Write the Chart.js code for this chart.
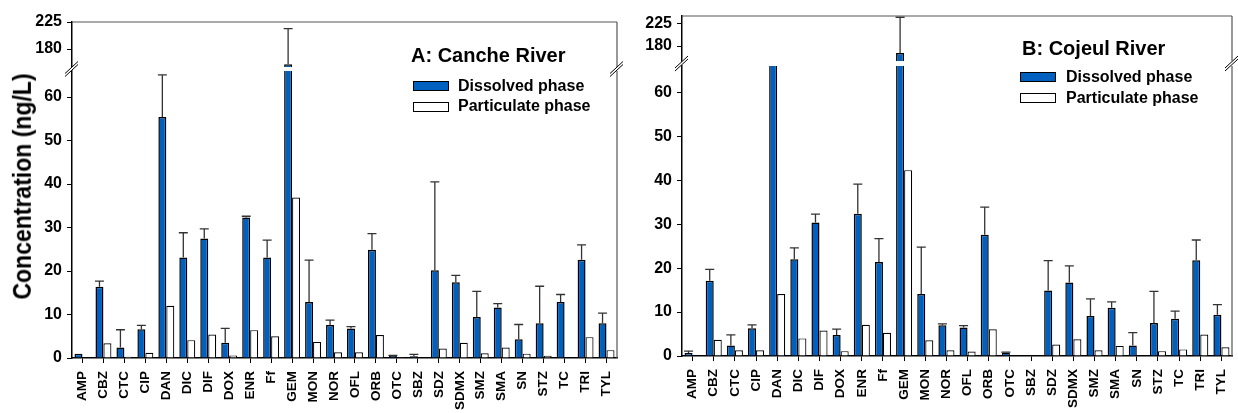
<!DOCTYPE html>
<html><head><meta charset="utf-8">
<script src="https://cdn.jsdelivr.net/npm/chart.js@4.4.1/dist/chart.umd.min.js"></script>
<style>
html,body{margin:0;padding:0;background:#fff;}
body{width:1238px;height:413px;overflow:hidden;position:relative;font-family:"Liberation Sans",Arial,sans-serif;}
canvas{position:absolute;}
.t{position:absolute;font-weight:bold;white-space:nowrap;color:#000;line-height:1;}
.sw{position:absolute;box-sizing:border-box;border:1.5px solid #000;width:36px;height:10px;}
</style></head><body>

<canvas id="aUp"></canvas>
<canvas id="aLo"></canvas>
<canvas id="bUp"></canvas>
<canvas id="bLo"></canvas>

<div class="t" style="left:-128px;top:175px;width:300px;text-align:center;font-size:23px;transform:rotate(-90deg) scaleY(1.12);">Concentration (ng/L)</div>

<div class="t" style="left:411px;top:45px;font-size:20px;">A: Canche River</div>
<div class="sw" style="left:413px;top:81px;background:#0060C0;"></div>
<div class="t" style="left:458px;top:78px;font-size:16px;">Dissolved phase</div>
<div class="sw" style="left:413px;top:102px;background:#fff;"></div>
<div class="t" style="left:458px;top:98px;font-size:16px;">Particulate phase</div>

<div class="t" style="left:1022px;top:38px;font-size:20px;">B: Cojeul River</div>
<div class="sw" style="left:1020px;top:72px;background:#0060C0;"></div>
<div class="t" style="left:1066px;top:69px;font-size:16px;">Dissolved phase</div>
<div class="sw" style="left:1020px;top:93px;background:#fff;"></div>
<div class="t" style="left:1066px;top:90px;font-size:16px;">Particulate phase</div>

<script>
const categories = ['AMP','CBZ','CTC','CIP','DAN','DIC','DIF','DOX','ENR','Ff','GEM','MON','NOR','OFL','ORB','OTC','SBZ','SDZ','SDMX','SMZ','SMA','SN','STZ','TC','TRI','TYL'];

// A: Canche River
const cancheDissolved   = [1.0,16.4,2.4,6.6,55.4,23.1,27.5,3.5,32.3,23.1,154.5,12.9,7.6,6.8,24.9,0.5,0.4,20.2,17.4,9.4,11.6,4.3,8.0,12.9,22.6,8.0];
const cancheDissolvedSD = [0,1.3,4.1,0.9,9.7,5.7,2.2,3.3,0.3,4.0,59.5,9.6,1.1,0.4,3.7,0.1,0.45,20.3,1.6,5.9,0.9,3.4,8.5,1.7,3.4,2.3];
const cancheParticulate = [0.1,3.4,0.3,1.2,12.0,4.1,5.4,0.6,6.4,5.0,36.9,3.7,1.3,1.3,5.3,0.2,0,2.2,3.5,1.1,2.4,1.0,0.5,0,4.8,1.8];

// B: Cojeul River
const cojeulDissolved   = [0.7,17.1,2.4,6.3,95,22.0,30.4,4.8,32.4,21.4,166,14.1,7.0,6.5,27.6,0.8,0,14.9,16.7,9.1,11.0,2.4,7.5,8.5,21.8,9.4];
const cojeulDissolvedSD = [0.4,2.6,2.4,0.8,0,2.6,1.9,1.3,6.7,5.3,71.5,10.7,0.3,0.4,6.3,0.1,0,6.8,3.8,3.9,1.3,2.9,7.2,1.7,4.6,2.3];
const cojeulParticulate = [0,3.7,1.3,1.3,14.1,4.0,5.8,1.1,7.1,5.3,42.3,3.6,1.3,1.0,6.1,0,0,2.6,3.8,1.3,2.3,0,1.1,1.5,4.9,2.0];

const upperTicks = [180, 225];
const lowerTicks = [0, 10, 20, 30, 40, 50, 60];

const BLUE = '#0060C0';
const FONT = '"Liberation Sans", Arial, sans-serif';

const errorBarPlugin = {
  id: 'errorBars',
  afterDatasetsDraw(chart, args, opts) {
    const {ctx, chartArea: a} = chart;
    const ys = chart.scales.y;
    const meta = chart.getDatasetMeta(0);
    const vals = chart.data.datasets[0].data;
    const errs = opts.errors || [];
    ctx.save();
    ctx.beginPath();
    ctx.rect(a.left, a.top - 1, a.right - a.left, a.bottom - a.top + 1);
    ctx.clip();
    ctx.strokeStyle = '#333';
    ctx.lineWidth = 1.3;
    meta.data.forEach((bar, i) => {
      const e = errs[i];
      if (!e) return;
      const y0 = ys.getPixelForValue(vals[i]);
      const y1 = ys.getPixelForValue(vals[i] + e);
      const half = bar.width / 2 + 0.5;
      ctx.beginPath();
      ctx.moveTo(bar.x, y0); ctx.lineTo(bar.x, y1);
      ctx.moveTo(bar.x - half, y1); ctx.lineTo(bar.x + half, y1);
      ctx.stroke();
    });
    ctx.restore();
  }
};

function drawBreak(ctx, x, y) {
  ctx.fillStyle = '#fff';
  ctx.beginPath();
  ctx.moveTo(x - 7, y + 4.5); ctx.lineTo(x + 6, y - 7.5);
  ctx.lineTo(x + 6, y - 4.5); ctx.lineTo(x - 7, y + 7.5);
  ctx.closePath(); ctx.fill();
  ctx.strokeStyle = '#000'; ctx.lineWidth = 1;
  ctx.beginPath();
  ctx.moveTo(x - 7, y + 4.5); ctx.lineTo(x + 6, y - 7.5);
  ctx.moveTo(x - 7, y + 7.5); ctx.lineTo(x + 6, y - 4.5);
  ctx.stroke();
}

const framePlugin = {
  id: 'frame',
  afterDraw(chart, args, opts) {
    const {ctx, chartArea: a} = chart;
    ctx.save();
    ctx.strokeStyle = '#555';
    ctx.lineWidth = 1.2;
    ctx.beginPath();
    if (opts.top) { ctx.moveTo(a.left, a.top); ctx.lineTo(a.right, a.top); }
    ctx.moveTo(a.right, a.top); ctx.lineTo(a.right, a.bottom);
    ctx.stroke();
    if (opts.gap) {
      const yc = a.top - opts.gap / 2;
      drawBreak(ctx, a.left, yc);
      drawBreak(ctx, a.right, yc);
    }
    ctx.restore();
  }
};

function makeChart(id, box, area, yMin, yMax, ticks, showX, dissolved, particulate, errors, frame) {
  const cv = document.getElementById(id);
  cv.width = box.w; cv.height = box.h;
  cv.style.left = box.x + 'px'; cv.style.top = box.y + 'px';
  cv.style.width = box.w + 'px'; cv.style.height = box.h + 'px';
  return new Chart(cv, {
    type: 'bar',
    data: {
      labels: categories,
      datasets: [
        { label: 'Dissolved phase', data: dissolved, backgroundColor: BLUE, borderColor: '#000',
          borderWidth: 1.5, borderSkipped: 'start', categoryPercentage: 0.76, barPercentage: 1.0, clip: 0 },
        { label: 'Particulate phase', data: particulate, backgroundColor: '#fff', borderColor: '#000',
          borderWidth: 1.2, borderSkipped: 'start', categoryPercentage: 0.76, barPercentage: 1.0, clip: 0 }
      ]
    },
    options: {
      responsive: false, animation: false, devicePixelRatio: 1,
      layout: { padding: { left: 0, top: area.top - box.y, right: box.x + box.w - area.right,
                           bottom: showX ? 0 : box.y + box.h - area.bottom } },
      plugins: { legend: { display: false }, tooltip: { enabled: false },
                 errorBars: { errors: errors }, frame: frame },
      scales: {
        x: {
          display: showX, offset: true,
          grid: { offset: false, drawOnChartArea: false, drawTicks: true, tickLength: 5, color: '#000' },
          border: { display: true, color: '#000', width: 1.5 },
          ticks: { autoSkip: false, minRotation: 90, maxRotation: 90, padding: 8, color: '#000',
                   font: { family: FONT, size: 13.5, weight: 'bold' } },
          afterFit: s => { if (showX) { s.height = box.y + box.h - area.bottom; } s.paddingLeft = 0; s.paddingRight = 0; }
        },
        y: {
          min: yMin, max: yMax,
          grid: { drawOnChartArea: false, drawTicks: true, tickLength: 5, color: '#000' },
          border: { display: true, color: '#000', width: 1.5 },
          ticks: { padding: 5, color: '#000', font: { family: FONT, size: 16, weight: 'bold' },
                   callback: v => String(v) },
          afterBuildTicks: s => { s.ticks = ticks.map(v => ({ value: v })); },
          afterFit: s => { s.width = area.left - box.x; s.paddingTop = 0; s.paddingBottom = 0; }
        }
      }
    },
    plugins: [errorBarPlugin, framePlugin]
  });
}

// Panel A
makeChart('aUp', {x: 0, y: 0, w: 632, h: 70}, {left: 72, top: 22, right: 617, bottom: 67},
  150, 225, upperTicks, false, cancheDissolved, cancheParticulate, cancheDissolvedSD, {top: true});
makeChart('aLo', {x: 0, y: 50, w: 632, h: 363}, {left: 72, top: 71, right: 617, bottom: 358},
  0, 66, lowerTicks, true, cancheDissolved, cancheParticulate, cancheDissolvedSD, {top: false, gap: 4});

// Panel B
makeChart('bUp', {x: 632, y: 0, w: 606, h: 64}, {left: 682, top: 16, right: 1232, bottom: 61},
  150, 240, upperTicks, false, cojeulDissolved, cojeulParticulate, cojeulDissolvedSD, {top: true});
makeChart('bLo', {x: 632, y: 45, w: 606, h: 368}, {left: 682, top: 66, right: 1232, bottom: 356},
  0, 66, lowerTicks, true, cojeulDissolved, cojeulParticulate, cojeulDissolvedSD, {top: false, gap: 5});
</script>
</body></html>
